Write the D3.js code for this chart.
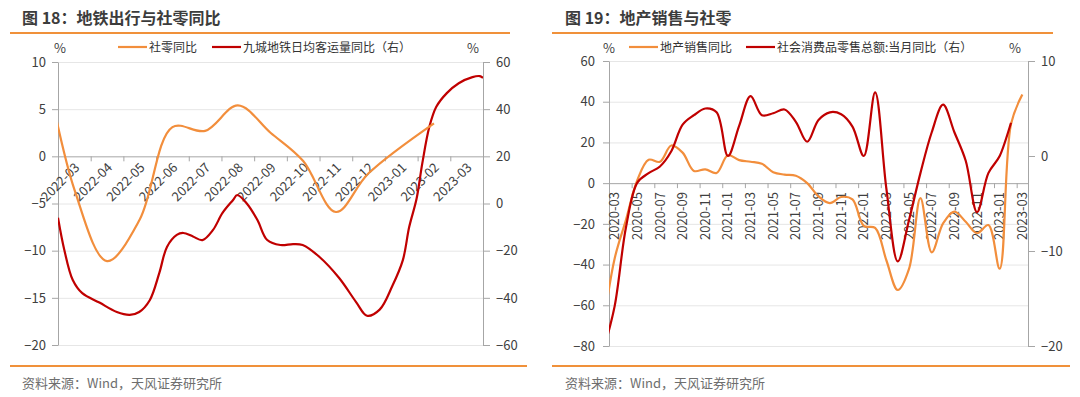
<!DOCTYPE html>
<meta charset="utf-8">
<style>
body { margin: 0; background: #fff; }
text { font-family: "Noto Sans CJK SC", "Noto Sans", sans-serif; }
.title { font-size: 16px; font-weight: bold; fill: #3c3c3c; }
.source { font-size: 13px; fill: #6e6e6e; }
.legend { font-size: 12px; fill: #333; }
.unit { font-size: 13px; fill: #404040; }
.axis text, .xlab { font-size: 13px; fill: #404040; }
.axis path, .axis line { stroke: #a6a6a6; }
.grid { stroke: #e6e6e6; stroke-width: 1px; }
.rule { stroke: #f0913a; stroke-width: 2px; }
.line { fill: none; stroke-width: 2.2px; }
</style>
<svg width="1080" height="397"></svg>
<script src="https://d3js.org/d3.v7.min.js"></script>
<script>

var orange = "#f28e3c",
    red = "#c00000";

// 图18 地铁出行与社零同比
var leftMonths = ["2022-03", "2022-04", "2022-05", "2022-06", "2022-07", "2022-08", "2022-09",
                  "2022-10", "2022-11", "2022-12", "2023-01", "2023-02", "2023-03"];
// 社零同比 (monthly, left axis); 2022-02 sits just outside the plot
var retailMonths = ["2022-02", "2022-03", "2022-04", "2022-05", "2022-06", "2022-07", "2022-08",
                    "2022-09", "2022-10", "2022-11", "2022-12", "2023-02"];
var retailValues = [11.5, -3.5, -11.1, -6.7, 3.1, 2.7, 5.4, 2.5, -0.5, -5.9, -1.8, 3.5];
// 九城地铁日均客运量同比 (right axis)
var subwayDates = ["2022-03-01", "2022-03-07", "2022-03-15", "2022-03-24", "2022-04-09", "2022-04-25",
                   "2022-05-07", "2022-05-16", "2022-05-26", "2022-06-04", "2022-06-11", "2022-06-20",
                   "2022-06-26", "2022-07-05", "2022-07-14", "2022-07-24", "2022-08-02", "2022-08-12",
                   "2022-08-16", "2022-08-25", "2022-09-04", "2022-09-13", "2022-09-25", "2022-10-07",
                   "2022-10-16", "2022-11-01", "2022-11-19", "2022-12-05", "2022-12-15", "2022-12-27",
                   "2023-01-08", "2023-01-18", "2023-01-24", "2023-01-31", "2023-02-05", "2023-02-11",
                   "2023-02-17", "2023-02-26", "2023-03-09", "2023-03-22", "2023-03-29", "2023-04-01"];
var subwayValues = [-6, -19.7, -32.4, -38, -42, -46,
                    -47.2, -46, -41, -29.4, -18.4, -13.3,
                    -12.5, -14, -15.5, -11.2, -4, 1.5,
                    3.6, 0, -7, -15.5, -17.6, -17.2,
                    -17.6, -22.7, -31.6, -42, -47.6, -45,
                    -35, -24, -10, 2, 17, 32.4,
                    41, 46.8, 51, 53.6, 54, 53.2];
var leftTicksL = [-20, -15, -10, -5, 0, 5, 10],
    leftTicksR = [-60, -40, -20, 0, 20, 40, 60];

// 图19 地产销售与社零
var rightMonths = ["2020-03", "2020-04", "2020-05", "2020-06", "2020-07", "2020-08", "2020-09", "2020-10",
                   "2020-11", "2020-12", "2021-01", "2021-02", "2021-03", "2021-04", "2021-05", "2021-06",
                   "2021-07", "2021-08", "2021-09", "2021-10", "2021-11", "2021-12", "2022-01", "2022-02",
                   "2022-03", "2022-04", "2022-05", "2022-06", "2022-07", "2022-08", "2022-09", "2022-10",
                   "2022-11", "2022-12", "2023-01", "2023-02", "2023-03"];
var rightTickLabels = ["2020-03", "2020-05", "2020-07", "2020-09", "2020-11", "2021-01", "2021-03",
                       "2021-05", "2021-07", "2021-09", "2021-11", "2022-01", "2022-03", "2022-05",
                       "2022-07", "2022-09", "2022-11", "2023-01", "2023-03"];
// 地产销售同比 (left axis), first value is 2020-02
var estateValues = [-70, -37, -18, 1.5, 11.5, 10.5, 18.5, 15, 6, 6.8, 5, 13.7, 11.3, 10.5, 9.5, 5.4, 4.2,
                    3.6, 0, -6.5, -9.8, -6.8, -8, -21, -22, -38, -52.5, -42, -7.4, -34, -19.8, -14,
                    -19, -24.6, -20.6, -42, 29, 43.5];
// 社会消费品零售总额:当月同比 (right axis), first value is 2020-02
var consumeValues = [-20.5, -15.8, -7.5, -2.8, -1.8, -1.1, 0.5, 3.3, 4.3, 5.0, 4.6, 0, 3.2, 6.3, 4.3, 4.5,
                     4.9, 3.6, 1.5, 3.8, 4.6, 4.4, 3.1, 0, 6.7, -3.5, -11.1, -6.7, -1.8, 2.5, 5.4, 2.5,
                     -0.5, -5.9, -1.8, 0, 3.5];
var rightTicksL = [-80, -60, -40, -20, 0, 20, 40, 60],
    rightTicksR = [-20, -10, 0, 10];

// month offset from an origin month; a day part gives a fraction of the month
function mIndex(s, origin) {
  var p = s.split("-").map(Number), o = origin.split("-").map(Number);
  var idx = (p[0] - o[0]) * 12 + (p[1] - o[1]);
  if (p.length > 2) idx += (p[2] - 1) / new Date(p[0], p[1], 0).getDate();
  return idx;
}

var svg = d3.select("svg");
var curve = d3.curveCatmullRom.alpha(0.5);

function frame(x0, x1, title, tx) {
  svg.append("text").attr("class", "title").attr("x", tx).attr("y", 24).text(title);
  svg.append("line").attr("class", "rule").attr("x1", x0).attr("x2", x1).attr("y1", 33).attr("y2", 33);
  svg.append("line").attr("class", "rule").attr("x1", x0).attr("x2", x1 + 17).attr("y1", 366).attr("y2", 366);
  svg.append("text").attr("class", "source").attr("x", tx).attr("y", 388).text("资料来源：Wind，天风证券研究所");
}

function legendItem(x, color, label) {
  svg.append("line").attr("x1", x).attr("x2", x + 29).attr("y1", 47).attr("y2", 47)
      .attr("stroke", color).attr("stroke-width", 2.2);
  svg.append("text").attr("class", "legend").attr("x", x + 31).attr("y", 51.5).text(label);
}

function clip(id, x0, x1) {
  svg.append("clipPath").attr("id", id).append("rect")
      .attr("x", x0).attr("y", 30).attr("width", x1 - x0).attr("height", 330);
}

// ---------- left chart ----------
frame(10, 510, "图 18：地铁出行与社零同比", 22);

var xL = d3.scaleLinear().domain([0, leftMonths.length]).range([58, 483]),
    yL1 = d3.scaleLinear().domain([-20, 10]).range([345, 62]),
    yL2 = d3.scaleLinear().domain([-60, 60]).range([345, 62]);

svg.append("g").selectAll("line")
    .data(leftTicksL.filter(function(d) { return d !== 0; }))
  .enter().append("line")
    .attr("class", "grid")
    .attr("x1", 58).attr("x2", 483)
    .attr("y1", function(d) { return yL1(d) + 0.5; })
    .attr("y2", function(d) { return yL1(d) + 0.5; });

svg.append("g")
    .attr("class", "axis")
    .attr("transform", "translate(58,0)")
    .call(d3.axisLeft(yL1).tickValues(leftTicksL).tickSize(6).tickSizeOuter(0).tickPadding(6));

svg.append("g")
    .attr("class", "axis")
    .attr("transform", "translate(483,0)")
    .call(d3.axisRight(yL2).tickValues(leftTicksR).tickSize(7).tickSizeOuter(0).tickPadding(6));

svg.append("g")
    .attr("class", "axis")
    .attr("transform", "translate(0," + yL1(0) + ")")
    .call(d3.axisBottom(xL).tickValues(d3.range(0, leftMonths.length + 1)).tickSize(5)
      .tickSizeOuter(0).tickFormat(""));

svg.append("g").selectAll("text")
    .data(leftMonths)
  .enter().append("text")
    .attr("class", "xlab")
    .attr("text-anchor", "end")
    .attr("transform", function(d, i) {
      return "translate(" + (xL(i + 0.5) + 6) + "," + (yL1(0) + 12) + ") rotate(-45)";
    })
    .text(function(d) { return d; });

clip("clipL", 58, 483);

var retailData = retailMonths.map(function(m, i) { return {x: mIndex(m, "2022-03") + 0.5, v: retailValues[i]}; });
var subwayData = subwayDates.map(function(d, i) { return {x: mIndex(d, "2022-03"), v: subwayValues[i]}; });

svg.append("path")
    .datum(subwayData)
    .attr("class", "line")
    .attr("clip-path", "url(#clipL)")
    .attr("stroke", red)
    .attr("d", d3.line().curve(curve)
      .x(function(d) { return xL(d.x); })
      .y(function(d) { return yL2(d.v); }));

svg.append("path")
    .datum(retailData)
    .attr("class", "line")
    .attr("clip-path", "url(#clipL)")
    .attr("stroke", orange)
    .attr("d", d3.line().curve(curve)
      .x(function(d) { return xL(d.x); })
      .y(function(d) { return yL1(d.v); }));

legendItem(118, orange, "社零同比");
legendItem(212, red, "九城地铁日均客运量同比（右）");
svg.append("text").attr("class", "unit").attr("x", 60).attr("y", 53).attr("text-anchor", "middle").text("%");
svg.append("text").attr("class", "unit").attr("x", 473).attr("y", 53).attr("text-anchor", "middle").text("%");

// ---------- right chart ----------
frame(552, 1053, "图 19：地产销售与社零", 565);

var xR = d3.scaleLinear().domain([0, rightMonths.length]).range([609, 1028]),
    yR1 = d3.scaleLinear().domain([-80, 60]).range([346, 61]),
    yR2 = d3.scaleLinear().domain([-20, 10]).range([346, 61]);

svg.append("g").selectAll("line")
    .data(rightTicksL.filter(function(d) { return d !== 0; }))
  .enter().append("line")
    .attr("class", "grid")
    .attr("x1", 609).attr("x2", 1028)
    .attr("y1", function(d) { return yR1(d) + 0.5; })
    .attr("y2", function(d) { return yR1(d) + 0.5; });

svg.append("g")
    .attr("class", "axis")
    .attr("transform", "translate(609,0)")
    .call(d3.axisLeft(yR1).tickValues(rightTicksL).tickSize(6).tickSizeOuter(0).tickPadding(8));

svg.append("g")
    .attr("class", "axis")
    .attr("transform", "translate(1028,0)")
    .call(d3.axisRight(yR2).tickValues(rightTicksR).tickSize(7).tickSizeOuter(0).tickPadding(6));

svg.append("g")
    .attr("class", "axis")
    .attr("transform", "translate(0," + yR1(0) + ")")
    .call(d3.axisBottom(xR).tickValues(d3.range(0, rightMonths.length, 2).concat([rightMonths.length]))
      .tickSize(5).tickSizeOuter(0).tickFormat(""));

svg.append("g").selectAll("text")
    .data(rightTickLabels)
  .enter().append("text")
    .attr("class", "xlab")
    .attr("text-anchor", "end")
    .attr("dy", "0.35em")
    .attr("transform", function(d) {
      return "translate(" + xR(rightMonths.indexOf(d) + 0.5) + "," + (yR1(0) + 9) + ") rotate(-90)";
    })
    .text(function(d) { return d; });

clip("clipR", 609, 1028);

var estateData = estateValues.map(function(v, i) { return {x: i - 0.5, v: v}; });
var consumeData = consumeValues.map(function(v, i) { return {x: i - 0.5, v: v}; });

svg.append("path")
    .datum(estateData)
    .attr("class", "line")
    .attr("clip-path", "url(#clipR)")
    .attr("stroke", orange)
    .attr("d", d3.line().curve(curve)
      .x(function(d) { return xR(d.x); })
      .y(function(d) { return yR1(d.v); }));

svg.append("path")
    .datum(consumeData)
    .attr("class", "line")
    .attr("clip-path", "url(#clipR)")
    .attr("stroke", red)
    .attr("d", d3.line().curve(curve)
      .x(function(d) { return xR(d.x); })
      .y(function(d) { return yR2(d.v); }));

legendItem(629, orange, "地产销售同比");
legendItem(746, red, "社会消费品零售总额:当月同比（右）");
svg.append("text").attr("class", "unit").attr("x", 609).attr("y", 53).attr("text-anchor", "middle").text("%");
svg.append("text").attr("class", "unit").attr("x", 1015).attr("y", 53).attr("text-anchor", "middle").text("%");

</script>
